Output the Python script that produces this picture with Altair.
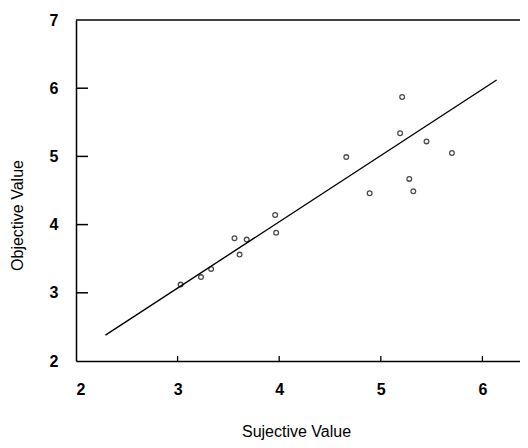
import altair as alt
import pandas as pd

# data
subj_x = [3.03, 3.23, 3.33, 3.56, 3.61, 3.68, 3.96, 3.97, 4.66, 4.89, 5.19, 5.21, 5.28, 5.32, 5.45, 5.70]
obj_y = [3.12, 3.23, 3.35, 3.80, 3.56, 3.78, 4.14, 3.88, 4.99, 4.46, 5.34, 5.87, 4.67, 4.49, 5.22, 5.05]
fit_x = [2.29, 6.14]
fit_y = [2.38, 6.12]
x_ticks = [2, 3, 4, 5, 6]
y_ticks = [2, 3, 4, 5, 6, 7]
x_inner_ticks = [3, 4, 5, 6]
y_inner_ticks = [3, 4, 5, 6]

W, H = 444, 341
FONT = "Liberation Sans"

pts = pd.DataFrame({"x": subj_x, "y": obj_y})
fit = pd.DataFrame({"x": fit_x, "y": fit_y})
xt = pd.DataFrame({"x": x_inner_ticks})
yt = pd.DataFrame({"y": y_inner_ticks})

xscale = alt.Scale(domain=[2, 6.37], nice=False, zero=False)
yscale = alt.Scale(domain=[2, 7], nice=False, zero=False)

xaxis = alt.Axis(values=x_ticks, format="d", title="Sujective Value", tickSize=0, grid=False,
                 domainColor="black", domainWidth=1.5, labelFont=FONT, labelFontSize=16,
                 labelFontWeight="bold", labelColor="black", labelPadding=20,
                 titleFont=FONT, titleFontSize=16, titleFontWeight="normal", titleColor="black",
                 titleX=220, titleY=70, titleAlign="center", titleBaseline="middle")
yaxis = alt.Axis(values=y_ticks, format="d", title="Objective Value", tickSize=0, grid=False,
                 domainColor="black", domainWidth=1.5, labelFont=FONT, labelFontSize=16,
                 labelFontWeight="bold", labelColor="black", labelPadding=18,
                 titleFont=FONT, titleFontSize=16, titleFontWeight="normal", titleColor="black",
                 titleX=-59, titleY=195, titleAngle=-90, titleAlign="center", titleBaseline="middle")

points = alt.Chart(pts).mark_point(shape="circle", filled=False, color="black", size=22, strokeWidth=1.3).encode(
    x=alt.X("x:Q", scale=xscale, axis=xaxis),
    y=alt.Y("y:Q", scale=yscale, axis=yaxis),
)

line = alt.Chart(fit).mark_line(color="black", strokeWidth=1.4).encode(
    x=alt.X("x:Q", scale=xscale),
    y=alt.Y("y:Q", scale=yscale),
)

top_border = alt.Chart(pd.DataFrame({"a": [0]})).mark_rule(color="black", strokeWidth=1.5).encode(
    x=alt.value(0), x2=alt.value(W), y=alt.value(0)
)

ytick_marks = alt.Chart(yt).mark_rule(color="black", strokeWidth=1.5).encode(
    y=alt.Y("y:Q", scale=yscale), x=alt.value(0), x2=alt.value(12)
)

xtick_marks = alt.Chart(xt).mark_rule(color="black", strokeWidth=1.3).encode(
    x=alt.X("x:Q", scale=xscale), y=alt.value(H - 5), y2=alt.value(H)
)

chart = alt.layer(line, points, top_border, ytick_marks, xtick_marks).properties(
    width=W, height=H,
    autosize=alt.AutoSizeParams(type="none"),
    padding={"left": 68, "top": 12, "right": 0, "bottom": 79},
    background="white",
).configure_view(stroke=None)

chart.save("out.html", embed_options={"renderer": "svg", "actions": False})
